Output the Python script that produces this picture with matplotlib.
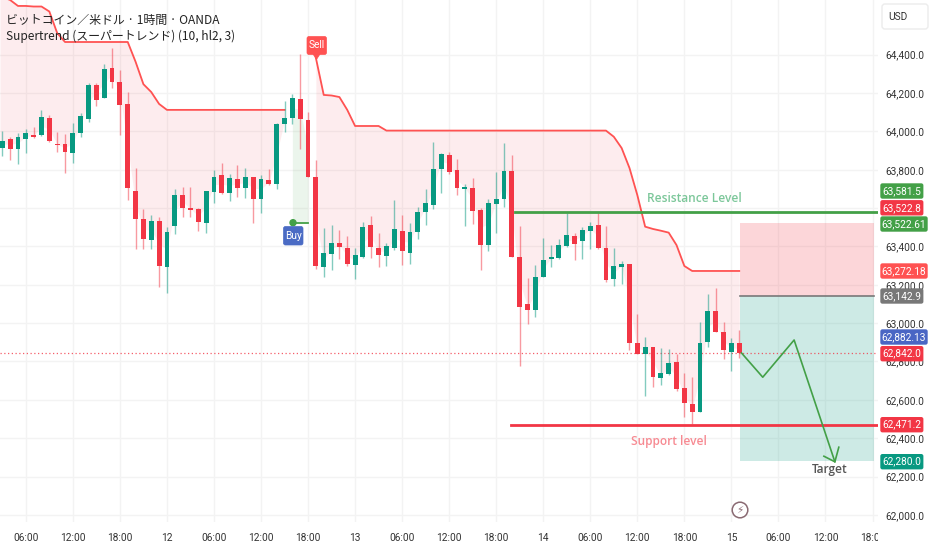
import matplotlib
matplotlib.use("Agg")
import matplotlib.pyplot as plt
import numpy as np
from matplotlib.patches import FancyBboxPatch, Circle, Polygon
from matplotlib.transforms import Bbox

# ==============================
# data
# ==============================
opens = [63915, 63959, 63908, 63959, 63983, 63980, 64071, 63936, 63933, 63887,
         63994, 64065, 64241, 64175, 64332, 64255, 64144, 63691, 63542, 63434,
         63532, 63293, 63506, 63670, 63600, 63593, 63523, 63682, 63772, 63678,
         63752, 63703, 63762, 63647, 63746, 63724, 64041, 64072, 64168, 64060,
         63762, 63293, 63360, 63419, 63393, 63302, 63344, 63511, 63393, 63349,
         63394, 63480, 63368, 63473, 63581, 63616, 63804, 63876, 63799, 63701,
         63707, 63588, 63410, 63621, 63647, 63794, 63346, 63100, 63067, 63241,
         63335, 63339, 63400, 63454, 63426, 63482, 63511, 63394, 63231, 63292,
         63306, 62899, 62840, 62873, 62713, 62737, 62797, 62664, 62580, 62537,
         62901, 63065, 62952, 62849, 62894]
closes = [63952, 63908, 63968, 63989, 63970, 64076, 63949, 63930, 63893, 63994,
          64078, 64241, 64165, 64327, 64259, 64139, 63703, 63544, 63440, 63534,
          63297, 63474, 63670, 63600, 63591, 63527, 63687, 63762, 63678, 63757,
          63703, 63762, 63647, 63752, 63724, 64039, 64071, 64173, 64062, 63764,
          63299, 63368, 63419, 63395, 63307, 63353, 63501, 63396, 63355, 63403,
          63490, 63375, 63475, 63579, 63625, 63804, 63883, 63789, 63703, 63708,
          63586, 63410, 63625, 63646, 63794, 63344, 63082, 63070, 63239, 63330,
          63344, 63408, 63459, 63415, 63485, 63506, 63391, 63225, 63297, 63306,
          62896, 62840, 62873, 62718, 62741, 62793, 62654, 62584, 62537, 62899,
          63065, 62953, 62858, 62894, 62842]
highs = [64003, 63970, 63994, 64013, 64024, 64111, 64085, 63999, 63985, 64044,
         64095, 64252, 64252, 64353, 64435, 64318, 64205, 63807, 63593, 63563,
         63555, 63502, 63698, 63712, 63712, 63599, 63691, 63799, 63834, 63778,
         63825, 63807, 63764, 63772, 63802, 64043, 64160, 64194, 64405, 64100,
         63851, 63494, 63510, 63485, 63454, 63393, 63529, 63557, 63471, 63419,
         63642, 63562, 63520, 63607, 63701, 63944, 63886, 63890, 63856, 63726,
         63757, 63599, 63646, 63789, 63938, 63877, 63506, 63234, 63302, 63445,
         63410, 63440, 63576, 63471, 63503, 63527, 63576, 63506, 63394, 63326,
         63306, 63046, 62926, 62873, 62868, 62863, 62837, 62741, 62720, 63008,
         63152, 63182, 63008, 62920, 62962]
lows = [63874, 63851, 63832, 63889, 63966, 63977, 63947, 63893, 63785, 63837,
        63973, 64051, 64130, 64172, 64226, 63980, 63642, 63384, 63384, 63384,
        63189, 63157, 63464, 63555, 63555, 63481, 63471, 63628, 63673, 63635,
        63659, 63650, 63523, 63575, 63720, 63698, 63999, 64039, 63908, 63764,
        63281, 63241, 63276, 63334, 63299, 63229, 63341, 63342, 63293, 63297,
        63382, 63302, 63307, 63440, 63511, 63595, 63680, 63778, 63670, 63506,
        63517, 63276, 63374, 63471, 63604, 63344, 62774, 62994, 63032, 63241,
        63293, 63337, 63398, 63328, 63337, 63389, 63389, 63215, 63194, 63203,
        62858, 62837, 62622, 62666, 62675, 62727, 62645, 62513, 62474, 62537,
        62875, 62953, 62814, 62753, 62819]
# supertrend: index 37-39 is the short up-trend after the Buy signal
supertrend = [64701, 64685, 64654, 64654, 64651, 64651, 64625, 64513, 64466, 64466,
              64466, 64466, 64466, 64466, 64466, 64466, 64466, 64363, 64246, 64205,
              64143, 64112, 64112, 64112, 64112, 64112, 64112, 64112, 64112, 64112,
              64112, 64112, 64112, 64112, 64112, 64112, 64112, 63522, 63522, 63522,
              64383, 64190, 64187, 64179, 64112, 64028, 64028, 64028, 64028, 64004,
              64004, 64004, 64004, 64004, 64004, 64004, 64004, 64004, 64004, 64004,
              64004, 64004, 64004, 64004, 64004, 64004, 64004, 64004, 64004, 64004,
              64004, 64004, 64004, 64004, 64004, 64004, 64004, 64004, 63972, 63913,
              63809, 63668, 63503, 63491, 63482, 63472, 63407, 63298, 63272, 63272,
              63272, 63272, 63272, 63272, 63272]

price_ticks = [64400, 64200, 64000, 63800, 63600, 63400, 63200, 63000, 62800, 62600, 62400, 62200, 62000]
# 63,600 sits fully behind the price tags in the reference
price_labels = ["64,400.0", "64,200.0", "64,000.0", "63,800.0", "", "63,400.0", "63,200.0", "63,000.0",
                "62,800.0", "62,600.0", "62,400.0", "62,200.0", "62,000.0"]
time_ticks = [3, 9, 15, 21, 27, 33, 39, 45, 51, 57, 63, 69, 75, 81, 87, 93, 99, 105, 111]
time_labels = ["06:00", "12:00", "18:00", "12", "06:00", "12:00", "18:00", "13", "06:00", "12:00",
               "18:00", "14", "06:00", "12:00", "18:00", "15", "06:00", "12:00", "18:00"]

resistance = 63581.5
support = 62471.2
last_close = 62842.0
stop_price = 63522.61
entry_price = 63142.9
target_price = 62280.0

path_x = [94.3, 97, 101, 106.2]
path_y = [62844, 62718, 62912, 62277]
head_x = [104.8, 106.2, 106.7]
head_y = [62306, 62277, 62353]

# price tag labels, top to bottom
tag_texts = ["63,581.5", "63,522.8", "63,522.61", "63,272.18", "63,142.9", "62,882.13", "62,842.0", "62,471.2", "62,280.0"]
tag_y = [191, 207.8, 224, 271, 296, 337, 353.7, 424.7, 461.7]
tag_colors = ["#43a047", "#f23645", "#43a047", "#ff5252", "#787878", "#4a66c4", "#f23645", "#f23645", "#089981"]

GREEN = "#089981"
RED = "#f23645"
LINE_RED = "#ff5252"
LINE_GREEN = "#43a047"
TICK_FONT = "Roboto"
CJK = ["Noto Sans CJK JP", "DejaVu Sans"]

# ==============================
# main pane
# ==============================
fig = plt.figure(figsize=(9.32, 5.5), dpi=100)
ax = fig.add_axes([0, 1 - 522 / 550, 878 / 932, 522 / 550])
ax.set_xlim(-0.293, 111.7)
ax.set_ylim(61963, 64685)

idx = np.arange(len(opens))
o = np.array(opens)
c = np.array(closes)
st = np.array(supertrend, dtype=float)
mid = (o + c) / 2

ax.set_xticks(time_ticks)
ax.set_xticklabels(time_labels)
ax.set_yticks(price_ticks)
ax.set_yticklabels(price_labels)
ax.yaxis.tick_right()
ax.grid(True, color="#f3f3f3", lw=1)
ax.set_axisbelow(True)
ax.tick_params(length=0, labelsize=7.3, labelcolor="#333333")
ax.tick_params(axis="x", pad=8)
ax.tick_params(axis="y", pad=5)
for lbl in ax.get_xticklabels() + ax.get_yticklabels():
    lbl.set_fontfamily(TICK_FONT)
for lbl in ax.get_xticklabels():
    lbl.set_clip_box(Bbox([[0, 0], [878, 550]]))
    lbl.set_clip_on(True)
for s in ax.spines.values():
    s.set_visible(False)

# supertrend shading and line
red_a = np.arange(0, 37)
red_b = np.arange(40, 95)
buy_seg = np.arange(37, 40)
ax.fill_between(np.r_[-0.293, red_a], np.r_[st[0], st[red_a]], np.r_[mid[0], mid[red_a]], color=RED, alpha=0.09, lw=0)
ax.fill_between(red_b, st[red_b], mid[red_b], color=RED, alpha=0.09, lw=0)
ax.fill_between(buy_seg, st[buy_seg], mid[buy_seg], color=LINE_GREEN, alpha=0.1, lw=0)
ax.plot(red_a, st[red_a], color=LINE_RED, lw=1.3, zorder=3)
ax.plot(red_b, st[red_b], color=LINE_RED, lw=1.3, zorder=3)
ax.plot(buy_seg, st[buy_seg], color=LINE_GREEN, lw=1.3, zorder=3)

# position tool
tool_x = [94.1, 111.2]
ax.fill_between(tool_x, stop_price, entry_price, color=RED, alpha=0.2, lw=0, zorder=2)
ax.fill_between(tool_x, entry_price, target_price, color=GREEN, alpha=0.2, lw=0, zorder=2)
ax.plot(tool_x, [entry_price, entry_price], color="#787878", lw=1.2, zorder=2.5)

# candles
colors = [GREEN if b >= a else RED for a, b in zip(o, c)]
ax.vlines(idx, lows, highs, colors=colors, lw=1, alpha=0.5, zorder=4)
ax.bar(idx, np.maximum(np.abs(c - o), 4), bottom=np.minimum(o, c), width=0.62, color=colors, lw=0, zorder=5)

# levels
ax.axhline(last_close, color=RED, lw=0.9, ls=(0, (1, 2)), alpha=0.8, zorder=3)
ax.plot([65.4, 111.7], [resistance, resistance], color=LINE_GREEN, lw=2, zorder=6)
ax.plot([64.9, 111.7], [support, support], color=RED, lw=2, zorder=6)

# forecast path
ax.plot(path_x, path_y, color=LINE_GREEN, lw=1.2, zorder=7)
ax.plot(head_x, head_y, color=LINE_GREEN, lw=1.2, zorder=7)

# ==============================
# overlay in pixel coords: tags, labels
# ==============================
ov = fig.add_axes([0, 0, 1, 1], zorder=10)
ov.set_xlim(0, 932)
ov.set_ylim(550, 0)
ov.axis("off")

ov.text(6, 20, "ビットコイン／米ドル · 1時間 · OANDA", family=CJK, fontsize=8.6, color="#222222", va="center")
ov.text(6, 36, "Supertrend (スーパートレンド) (10, hl2, 3)", family=CJK, fontsize=8.6, color="#222222", va="center")

ov.text(694, 198, "Resistance Level", family="Open Sans", fontsize=8.6, fontweight="semibold", color="#7cc79a", ha="center", va="center")
ov.text(669, 441, "Support level", family="Open Sans", fontsize=8.6, fontweight="semibold", color="#f78a92", ha="center", va="center")
ov.text(830, 470, "Target", family="Open Sans", fontsize=8.6, fontweight="semibold", color="#555555", ha="center", va="center")

# price tags
for txt, y, col in zip(tag_texts, tag_y, tag_colors):
    w = 48 if len(txt) == 9 else 43.7
    ov.add_patch(FancyBboxPatch((881, y - 7), w - 2, 14, boxstyle="round,pad=0,rounding_size=1.5", fc=col, ec=col, lw=1))
    ov.text(880 + w / 2, y, txt, family=TICK_FONT, fontsize=7.3, color="white", ha="center", va="center")

# USD box
ov.add_patch(FancyBboxPatch((882, 4), 46, 25, boxstyle="round,pad=0,rounding_size=3", fc="white", ec="#ececec", lw=1))
ov.text(888, 17, "USD", family=TICK_FONT, fontsize=7.3, color="#333333", va="center")

# Sell marker
ov.add_patch(FancyBboxPatch((307, 36.5), 19.5, 18, boxstyle="round,pad=0,rounding_size=2", fc=LINE_RED, ec=LINE_RED, lw=0.5))
ov.add_patch(Polygon([[313, 54], [320, 54], [316.5, 59.5]], fc=LINE_RED, ec=LINE_RED, lw=0.5))
ov.text(316.7, 45.5, "Sell", family=TICK_FONT, fontsize=7.3, color="white", ha="center", va="center")

# Buy marker
ov.add_patch(Circle((293, 222.7), 3, fc=LINE_GREEN, ec=LINE_GREEN))
ov.add_patch(FancyBboxPatch((283.5, 226.5), 19.5, 18.5, boxstyle="round,pad=0,rounding_size=2", fc="#4a6bc4", ec="#4a6bc4", lw=0.5))
ov.text(293.2, 235.7, "Buy", family=TICK_FONT, fontsize=7.3, color="white", ha="center", va="center")

# earnings icon
ov.add_patch(Circle((740, 510), 7.8, fc="white", ec="#8a6a72", lw=1.1))
ov.text(740, 510, "⚡", family="DejaVu Sans", fontsize=7.5, color="#8a6a72", ha="center", va="center")

fig.savefig("out.png", dpi=100)
